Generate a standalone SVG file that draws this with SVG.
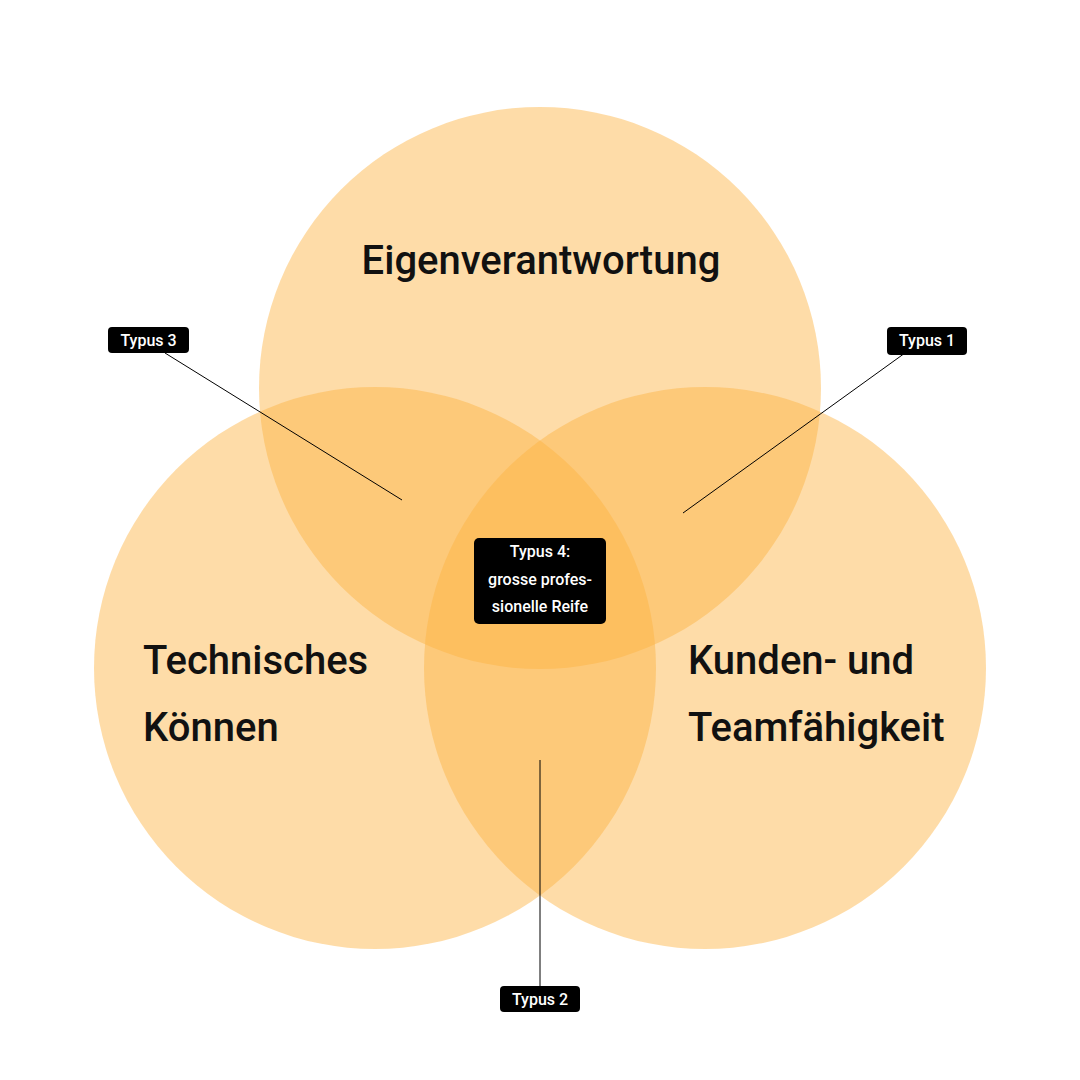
<svg xmlns="http://www.w3.org/2000/svg" width="1080" height="1080" viewBox="0 0 1080 1080">
<style>
.c{fill:#FDB241;fill-opacity:0.46}
.t{font-family:Roboto,"Liberation Sans",sans-serif;font-size:40px;font-weight:500;fill:#111}
.lb{fill:#000}
.lt{font-family:Roboto,"Liberation Sans",sans-serif;font-size:16px;font-weight:500;fill:#fff;text-anchor:middle}
.ln{stroke:#000;stroke-width:1;fill:none}
</style>
<rect width="1080" height="1080" fill="#fff"/>
<g id="circle-eigen"><circle class="c" cx="540" cy="388" r="281"/><text class="t" x="541" y="274" text-anchor="middle">Eigenverantwortung</text></g>
<g id="circle-tech"><circle class="c" cx="375" cy="668" r="281"/><text class="t" x="143" y="674">Technisches</text><text class="t" x="143" y="741">Können</text></g>
<g id="circle-kunden"><circle class="c" cx="705" cy="668" r="281"/><text class="t" x="688" y="674">Kunden- und</text><text class="t" x="688" y="741">Teamfähigkeit</text></g>
<g id="connectors">
<line class="ln" x1="165" y1="353" x2="402" y2="500"/>
<line class="ln" x1="905" y1="353" x2="683" y2="513"/>
<line class="ln" x1="540" y1="986" x2="540" y2="760"/>
</g>
<g id="typus3"><rect class="lb" x="108" y="327" width="81" height="26" rx="4"/><text class="lt" x="148.5" y="346">Typus 3</text></g>
<g id="typus1"><rect class="lb" x="887" y="327" width="80" height="28" rx="4"/><text class="lt" x="927" y="346">Typus 1</text></g>
<g id="typus2"><rect class="lb" x="500" y="986" width="80" height="26" rx="4"/><text class="lt" x="540" y="1005">Typus 2</text></g>
<g id="typus4"><rect class="lb" x="474" y="538" width="132" height="86" rx="5"/><text class="lt" x="540" y="557">Typus 4:</text><text class="lt" x="540" y="585">grosse profes-</text><text class="lt" x="540" y="612">sionelle Reife</text></g>
</svg>
